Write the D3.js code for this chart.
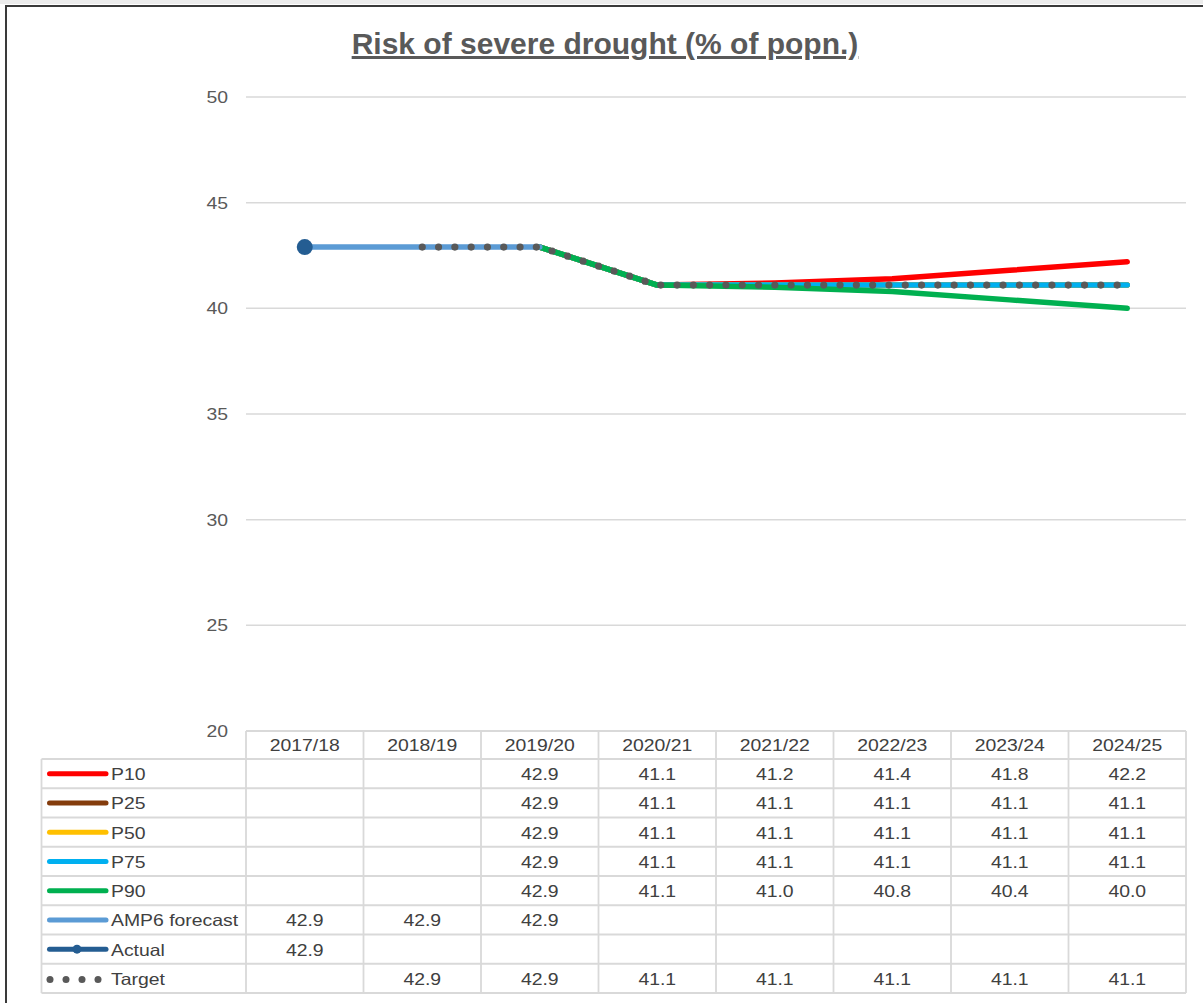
<!DOCTYPE html>
<html>
<head>
<meta charset="utf-8">
<script src="https://cdn.jsdelivr.net/npm/d3@7/dist/d3.min.js"></script>
<style>
  html, body { margin: 0; padding: 0; background: #fff; }
  svg { display: block; }
  text { font-family: "Liberation Sans", Arial, sans-serif; }
</style>
</head>
<body>
<svg id="chart" width="1203" height="1003"></svg>
<script>
// Years on the horizontal axis
const categories = ["2017/18", "2018/19", "2019/20", "2020/21", "2021/22", "2022/23", "2023/24", "2024/25"];

// Series values (% of population at risk of severe drought); null = no value
const p10    = [null, null, 42.9, 41.1, 41.2, 41.4, 41.8, 42.2];
const p25    = [null, null, 42.9, 41.1, 41.1, 41.1, 41.1, 41.1];
const p50    = [null, null, 42.9, 41.1, 41.1, 41.1, 41.1, 41.1];
const p75    = [null, null, 42.9, 41.1, 41.1, 41.1, 41.1, 41.1];
const p90    = [null, null, 42.9, 41.1, 41.0, 40.8, 40.4, 40.0];
const amp6   = [42.9, 42.9, 42.9, null, null, null, null, null];
const actual = [42.9, null, null, null, null, null, null, null];
const target = [null, 42.9, 42.9, 41.1, 41.1, 41.1, 41.1, 41.1];

const yTicks = [20, 25, 30, 35, 40, 45, 50];

const seriesNames = ["P10", "P25", "P50", "P75", "P90", "AMP6 forecast", "Actual", "Target"];
const seriesValues = [p10, p25, p50, p75, p90, amp6, actual, target];

const series = seriesNames.map((name, i) => ({ name, values: seriesValues[i] }));

const styles = {
  "P10":           { color: "#ff0000" },
  "P25":           { color: "#843c0c" },
  "P50":           { color: "#ffc000" },
  "P75":           { color: "#00b0f0" },
  "P90":           { color: "#00b050" },
  "AMP6 forecast": { color: "#5b9bd5" },
  "Actual":        { color: "#245d92", marker: true },
  "Target":        { color: "#595959", dotted: true }
};

const svg = d3.select("#chart");
const STRETCH = 1.19;              // horizontal text stretch
const textColor = "#404040";
const axisColor = "#595959";
const gridColor = "#d9d9d9";

// Place a text element horizontally stretched around its anchor
function placeText(sel, x, y, sx = STRETCH) {
  return sel.attr("transform", `translate(${x},${y}) scale(${sx},1)`);
}

// Sheet frame
svg.append("rect").attr("x", 0).attr("y", 0).attr("width", 1203).attr("height", 4).attr("fill", "#ececec");
svg.append("line").attr("x1", 5).attr("x2", 1203).attr("y1", 6).attr("y2", 6)
  .attr("stroke", "#3a3a3a").attr("stroke-width", 2);
svg.append("line").attr("x1", 6).attr("x2", 6).attr("y1", 5).attr("y2", 1003)
  .attr("stroke", "#3a3a3a").attr("stroke-width", 2);

// Scales
const x = d3.scaleBand().domain(categories).range([246, 1186]).padding(0);
const cx = c => x(c) + x.bandwidth() / 2;
const y = d3.scaleLinear().domain([20, 50]).range([731, 97]);

// Title
const title = svg.append("text")
  .attr("text-anchor", "middle")
  .attr("font-size", 30)
  .attr("font-weight", "bold")
  .attr("fill", axisColor)
  .attr("text-decoration", "underline")
  .text("Risk of severe drought (% of popn.)");
placeText(title, 605, 54, 1.0);

// Horizontal gridlines
const gridG = svg.append("g");
gridG.selectAll("line").data(yTicks.filter(t => t > 20)).join("line")
  .attr("x1", 246).attr("x2", 1186)
  .attr("y1", d => y(d)).attr("y2", d => y(d))
  .attr("stroke", gridColor).attr("stroke-width", 1.5);

// Y axis labels (via d3 axis, then restyled)
const yAxis = svg.append("g").attr("transform", "translate(246,0)")
  .call(d3.axisLeft(y).tickValues(yTicks).tickSize(0).tickPadding(0));
yAxis.select(".domain").remove();
yAxis.selectAll(".tick text").each(function(d) {
  d3.select(this)
    .attr("x", null).attr("dy", null)
    .attr("font-size", 16.3)
    .attr("font-family", "Liberation Sans, Arial, sans-serif")
    .attr("fill", axisColor)
    .attr("text-anchor", "end")
    .attr("dominant-baseline", "central")
    .attr("transform", `translate(-18,0) scale(${STRETCH},1)`);
});

// Lines
const line = d3.line()
  .defined(d => d.v != null)
  .x(d => cx(d.c))
  .y(d => y(d.v));

const linesG = svg.append("g");
series.forEach(s => {
  const st = styles[s.name];
  const pts = s.values.map((v, i) => ({ c: categories[i], v }));
  if (st.dotted) {
    // round dots placed along the (hidden) target path
    const guide = linesG.append("path")
      .datum(pts).attr("d", line)
      .attr("fill", "none").attr("stroke", "none");
    const node = guide.node();
    const total = node.getTotalLength();
    const step = 16.3;
    const dots = d3.range(0, total + 0.01, step).map(l => node.getPointAtLength(l));
    linesG.append("g").selectAll("circle").data(dots).join("circle")
      .attr("cx", d => d.x).attr("cy", d => d.y)
      .attr("r", 3.6).attr("fill", st.color);
    return;
  }
  linesG.append("path")
    .datum(pts)
    .attr("d", line)
    .attr("fill", "none")
    .attr("stroke", st.color)
    .attr("stroke-width", 5.5)
    .attr("stroke-linejoin", "round")
    .attr("stroke-linecap", "round");
  if (st.marker) {
    linesG.selectAll(null).data(pts.filter(d => d.v != null)).join("circle")
      .attr("cx", d => cx(d.c)).attr("cy", d => y(d.v))
      .attr("r", 8).attr("fill", st.color);
  }
});

// Data table beneath the plot
const tableTop = 731;
const headerH = 28;
const rowH = 29.25;
const tableLeft = 41.5;
const tableRight = 1186;
const rowsTop = tableTop + headerH;
const tableBottom = rowsTop + rowH * series.length;

const tbl = svg.append("g");
const borderStyle = sel => sel.attr("stroke", gridColor).attr("stroke-width", 1.8);

// header top
tbl.append("line").attr("x1", 246).attr("x2", tableRight).attr("y1", tableTop).attr("y2", tableTop).call(borderStyle);
// row lines
d3.range(series.length + 1).forEach(i => {
  const yy = rowsTop + i * rowH;
  tbl.append("line").attr("x1", tableLeft).attr("x2", tableRight).attr("y1", yy).attr("y2", yy).call(borderStyle);
});
// column lines
categories.forEach(c => {
  tbl.append("line").attr("x1", x(c)).attr("x2", x(c)).attr("y1", tableTop).attr("y2", tableBottom).call(borderStyle);
});
tbl.append("line").attr("x1", tableRight).attr("x2", tableRight).attr("y1", tableTop).attr("y2", tableBottom).call(borderStyle);
tbl.append("line").attr("x1", tableLeft).attr("x2", tableLeft).attr("y1", rowsTop).attr("y2", tableBottom).call(borderStyle);

// header labels
categories.forEach(c => {
  const t = tbl.append("text")
    .attr("text-anchor", "middle").attr("dominant-baseline", "central")
    .attr("font-size", 16.3).attr("fill", textColor).text(c);
  placeText(t, cx(c), tableTop + headerH / 2 + 1);
});

// rows: legend key, name, values
const fmt = d3.format(".1f");
series.forEach((s, i) => {
  const st = styles[s.name];
  const ym = rowsTop + i * rowH + rowH / 2;
  if (st.dotted) {
    [50, 66, 82, 98].forEach(dx => {
      tbl.append("circle").attr("cx", dx).attr("cy", ym + 1).attr("r", 3.5).attr("fill", st.color);
    });
  } else {
    tbl.append("line").attr("x1", 49.5).attr("x2", 106).attr("y1", ym).attr("y2", ym)
      .attr("stroke", st.color).attr("stroke-width", 5).attr("stroke-linecap", "round");
    if (st.marker) {
      tbl.append("circle").attr("cx", 77).attr("cy", ym).attr("r", 4.5).attr("fill", st.color);
    }
  }
  const lbl = tbl.append("text")
    .attr("dominant-baseline", "central")
    .attr("font-size", 16.3).attr("fill", textColor).text(s.name);
  placeText(lbl, 111, ym + 1);

  s.values.forEach((v, j) => {
    if (v == null) return;
    const t = tbl.append("text")
      .attr("text-anchor", "middle").attr("dominant-baseline", "central")
      .attr("font-size", 16.3).attr("fill", textColor).text(fmt(v));
    placeText(t, cx(categories[j]), ym + 1);
  });
});
</script>
</body>
</html>
